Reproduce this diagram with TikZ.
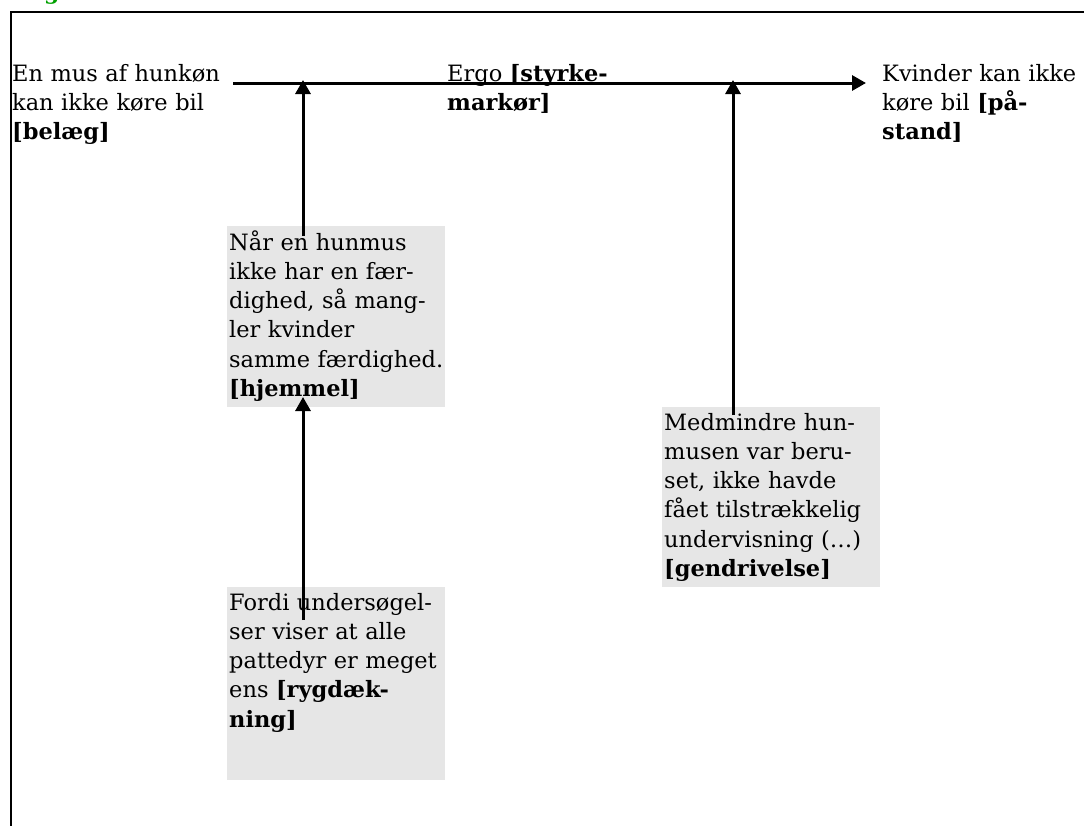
\documentclass[tikz,border=0pt]{standalone}
\usepackage{fontspec}
\setmainfont{DejaVu Serif}
\usetikzlibrary{arrows.meta}
\definecolor{boxgrey}{HTML}{E6E6E6}
\definecolor{headgreen}{HTML}{00A000}
\setlength{\lineskiplimit}{-30pt}

\begin{document}
\begin{tikzpicture}[x=1pt,y=-1pt]
\useasboundingbox (0,0) rectangle (1084,825);
% frame and cut-off heading
\draw[line width=1.2pt] (11,840) -- (11,12) -- (1100,12);
\node[anchor=base west,inner sep=0,text=headgreen,font=\bfseries\fontsize{22}{22}\selectfont] (head) at (44,-1) {g};

\begin{scope}[every node/.style={rectangle,fill=boxgrey,anchor=north west,inner sep=0,minimum width=218pt}]
    \node[minimum height=181pt] (B1) at (227,226) {};
    \node[minimum height=193pt] (B2) at (227,587) {};
    \node[minimum height=180pt] (B3) at (662,407) {};
\end{scope}

\begin{scope}[every node/.style={anchor=base west,inner sep=0,text width=260pt,align=left,
        font=\fontsize{22.5}{29.3}\selectfont}]
    \node (belaeg) at (12,81) {En mus af hunkøn\\kan ikke køre bil\\\textbf{[belæg]}};
    \node (ergo) at (447,81) {Ergo \textbf{[styrke-}\\\textbf{markør]}};
    \node (paastand) at (882,81) {Kvinder kan ikke\\køre bil \textbf{[på-}\\\textbf{stand]}};
    \node (hjemmel) at (229,250) {Når en hunmus\\ikke har en fær-\\dighed, så mang-\\ler kvinder\\samme færdighed.\\\textbf{[hjemmel]}};
    \node (rygd) at (229,610) {Fordi undersøgel-\\ser viser at alle\\pattedyr er meget\\ens \textbf{[rygdæk-}\\\textbf{ning]}};
    \node (gendriv) at (664,430) {Medmindre hun-\\musen var beru-\\set, ikke havde\\fået tilstrækkelig\\undervisning (…)\\\textbf{[gendrivelse]}};
\end{scope}

% ends of the arrows
\coordinate (lineStart) at (233,83);
\coordinate (lineEnd) at (866,83);
\coordinate (w1) at (303,80);
\coordinate (w2) at (733,80);
\coordinate (h1) at (303,236);
\coordinate (h2) at (303,397);
\coordinate (r1) at (303,620);
\coordinate (g1) at (733,415);

\begin{scope}[>={Triangle[length=14pt,width=15pt]},
              every edge/.style={draw=black,line width=3pt}]
    \path [->] (lineStart) edge (lineEnd);
    \path [->] (h1) edge (w1);
    \path [->] (r1) edge (h2);
    \path [->] (g1) edge (w2);
\end{scope}
\end{tikzpicture}
\end{document}
